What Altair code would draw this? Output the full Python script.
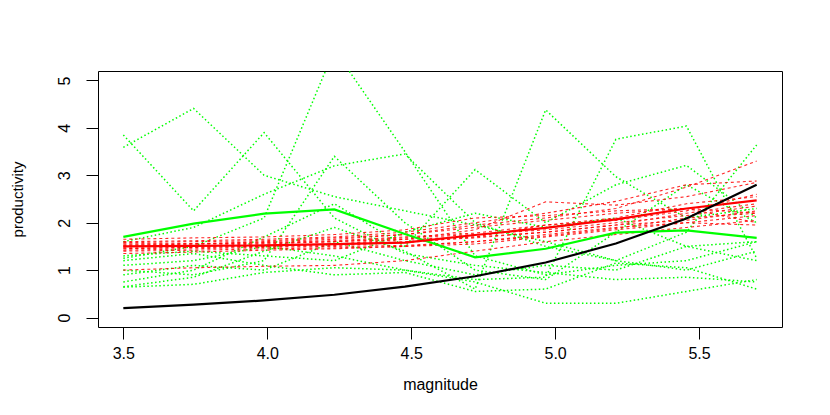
import altair as alt
import pandas as pd

# magnitude grid (10 points from 3.5 to 5.7)
x_vals = [3.5, 3.744, 3.989, 4.233, 4.478, 4.722, 4.967, 5.211, 5.456, 5.7]

# thin dotted green series
g1 = [3.85, 2.25, 3.90, 2.10, 1.35, 1.10, 0.95, 0.80, 0.85, 0.75]
g2 = [3.59, 4.41, 3.00, 2.55, 2.25, 1.95, 1.60, 1.20, 1.00, 1.40]
g3 = [1.25, 1.50, 2.10, 5.65, 3.50, 1.30, 0.90, 1.10, 1.20, 1.60]
g4 = [0.65, 0.85, 1.40, 1.90, 1.40, 0.60, 4.38, 2.97, 2.10, 2.30]
g5 = [1.10, 1.20, 1.50, 1.30, 1.00, 0.80, 0.85, 3.76, 4.04, 1.25]
g6 = [1.60, 1.90, 2.60, 3.20, 3.45, 2.00, 1.50, 1.20, 1.80, 3.64]
g7 = [0.75, 1.00, 1.70, 2.40, 1.50, 3.12, 2.00, 2.80, 3.21, 2.10]
g8 = [0.64, 0.70, 0.95, 1.05, 1.00, 0.75, 0.30, 0.30, 0.55, 0.80]
g9 = [1.20, 1.35, 1.10, 0.90, 0.95, 0.55, 0.60, 1.15, 1.05, 0.60]
g10 = [1.00, 0.90, 1.20, 3.40, 2.00, 1.00, 0.80, 1.80, 2.80, 2.00]
g11 = [1.30, 1.40, 1.30, 1.20, 1.80, 2.20, 1.90, 2.10, 1.50, 1.60]
g12 = [0.90, 1.10, 1.00, 1.60, 1.20, 0.90, 1.10, 1.00, 1.50, 1.20]
green_dotted = [g1, g2, g3, g4, g5, g6, g7, g8, g9, g10, g11, g12]

# thin dashed red series
r1 = [1.52, 1.55, 1.60, 1.65, 1.75, 1.95, 2.10, 2.30, 2.75, 3.30]
r2 = [1.60, 1.62, 1.65, 1.70, 1.80, 2.00, 2.20, 2.45, 2.80, 2.88]
r3 = [1.45, 1.48, 1.50, 1.55, 1.65, 1.85, 2.44, 2.37, 2.55, 2.85]
r4 = [1.55, 1.56, 1.58, 1.62, 1.70, 1.78, 1.95, 2.05, 2.25, 2.60]
r5 = [1.48, 1.50, 1.52, 1.55, 1.60, 1.68, 1.80, 1.95, 2.20, 2.40]
r6 = [1.42, 1.45, 1.48, 1.50, 1.52, 1.60, 1.72, 1.88, 2.10, 2.20]
r7 = [1.58, 1.60, 1.62, 1.68, 1.75, 1.90, 2.05, 2.20, 2.30, 2.00]
r8 = [1.40, 1.42, 1.45, 1.47, 1.50, 1.55, 1.70, 1.85, 2.00, 2.15]
r9 = [1.00, 1.05, 1.08, 1.10, 1.20, 1.40, 1.60, 1.75, 1.90, 2.05]
r10 = [1.50, 1.52, 1.55, 1.60, 1.68, 1.75, 1.85, 2.00, 2.15, 2.35]
r11 = [1.65, 1.68, 1.70, 1.75, 1.85, 2.10, 2.15, 2.25, 2.30, 2.20]
r12 = [1.35, 1.38, 1.42, 1.45, 1.50, 1.60, 1.75, 1.90, 2.00, 1.95]
r13 = [1.45, 1.48, 1.50, 1.52, 1.58, 1.70, 1.95, 2.10, 2.40, 2.55]
r14 = [1.55, 1.55, 1.57, 1.60, 1.65, 1.70, 1.80, 1.95, 2.05, 2.25]
red_dashed = [r1, r2, r3, r4, r5, r6, r7, r8, r9, r10, r11, r12, r13, r14]

# thick solid lines
green_line = [1.70, 1.98, 2.19, 2.28, 1.76, 1.27, 1.45, 1.79, 1.84, 1.68]
red_line = [1.50, 1.51, 1.52, 1.55, 1.58, 1.74, 1.89, 2.07, 2.30, 2.47]
black_line = [0.20, 0.27, 0.36, 0.48, 0.65, 0.87, 1.16, 1.56, 2.09, 2.80]


def long(series_list, prefix):
    rows = []
    for i, s in enumerate(series_list):
        for k, (xv, yv) in enumerate(zip(x_vals, s)):
            rows.append({"x": xv, "y": yv, "id": f"{prefix}{i}", "k": k})
    return pd.DataFrame(rows)


df_gd = long(green_dotted, "g")
df_rd = long(red_dashed, "r")
df_gl = long([green_line], "G")
df_rl = long([red_line], "R")
df_bl = long([black_line], "B")

FONT = "Liberation Sans"

xenc = alt.X(
    "x:Q",
    scale=alt.Scale(domain=[3.412, 5.788], nice=False, zero=False),
    axis=alt.Axis(
        values=[3.5, 4.0, 4.5, 5.0, 5.5],
        format=".1f",
        title="magnitude",
        grid=False,
        domain=False,
        tickSize=12,
        tickColor="black",
        labelFontSize=16,
        labelFont=FONT,
        labelColor="black",
        labelPadding=6,
        titleFont=FONT,
        titleFontSize=16,
        titleFontWeight="normal",
        titleColor="black",
        titlePadding=15,
    ),
)
yenc = alt.Y(
    "y:Q",
    scale=alt.Scale(domain=[-0.2, 5.2], nice=False, zero=False),
    axis=alt.Axis(
        values=[0, 1, 2, 3, 4, 5],
        title="productivity",
        grid=False,
        domain=False,
        tickSize=12,
        tickColor="black",
        labelAngle=270,
        labelAlign="center",
        labelBaseline="bottom",
        labelFontSize=16,
        labelFont=FONT,
        labelColor="black",
        labelPadding=14,
        titleFont=FONT,
        titleFontSize=15,
        titleFontWeight="normal",
        titleColor="black",
        titlePadding=31,
    ),
)

order = alt.Order("k:Q")

gd = alt.Chart(df_gd).mark_line(
    color="#00ff00", strokeWidth=1.5, strokeDash=[1.5, 2.5], clip=True
).encode(x=xenc, y=yenc, detail="id:N", order=order)

rd = alt.Chart(df_rd).mark_line(
    color="#ff0000", strokeWidth=1.1, strokeDash=[3, 3], opacity=0.85, clip=True
).encode(x=xenc, y=yenc, detail="id:N", order=order)

gl = alt.Chart(df_gl).mark_line(color="#00ff00", strokeWidth=2.2, clip=True).encode(
    x=xenc, y=yenc, order=order
)
rl = alt.Chart(df_rl).mark_line(color="#ff0000", strokeWidth=2.2, clip=True).encode(
    x=xenc, y=yenc, order=order
)
bl = alt.Chart(df_bl).mark_line(color="#000000", strokeWidth=2.2, clip=True).encode(
    x=xenc, y=yenc, order=order
)

chart = (
    alt.layer(gd, rd, gl, rl, bl)
    .properties(
        width=684,
        height=256,
        padding={"left": 90, "top": 63, "right": 40, "bottom": 80},
        autosize=alt.AutoSizeParams(type="none"),
        background="white",
    )
    .configure_view(stroke="black", strokeWidth=1)
)

chart.save("out.html", embed_options={"renderer": "svg", "actions": False})
